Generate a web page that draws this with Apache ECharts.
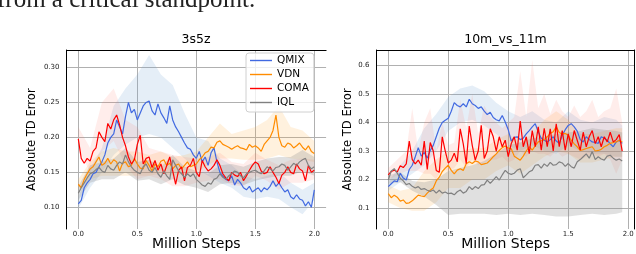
<!DOCTYPE html>
<html><head><meta charset="utf-8">
<script src="https://cdn.jsdelivr.net/npm/echarts@6/dist/echarts.min.js"></script>
<style>html,body{margin:0;padding:0;background:#fff}#c{width:636px;height:254px}</style>
</head><body><div id="c"></div><script>
// ---------- data ----------
const seriesNames = ['QMIX','VDN','COMA','IQL'];
const xTicks = [0, 0.5, 1, 1.5, 2];
const yTicks3s5z = [0.10, 0.15, 0.20, 0.25, 0.30];
const yTicks10m = [0.1, 0.2, 0.3, 0.4, 0.5, 0.6];

const steps3s5z = [0,0.025,0.05,0.075,0.1,0.125,0.15,0.175,0.2,0.225,0.25,0.275,0.3,0.325,0.35,0.375,0.4,0.425,0.45,0.475,0.5,0.525,0.55,0.575,0.6,0.625,0.65,0.675,0.7,0.725,0.75,0.775,0.8,0.825,0.85,0.875,0.9,0.925,0.95,0.975,1,1.025,1.05,1.075,1.1,1.125,1.15,1.175,1.2,1.225,1.25,1.275,1.3,1.325,1.35,1.375,1.4,1.425,1.45,1.475,1.5,1.525,1.55,1.575,1.6,1.625,1.65,1.675,1.7,1.725,1.75,1.775,1.8,1.825,1.85,1.875,1.9,1.925,1.95,1.975,2];
const qmix3s5z = [0.105,0.110,0.128,0.135,0.140,0.148,0.150,0.158,0.165,0.175,
0.192,0.200,0.205,0.225,0.215,0.205,0.230,0.250,0.235,0.240,
0.225,0.235,0.245,0.250,0.252,0.238,0.232,0.248,0.235,0.228,
0.220,0.245,0.225,0.215,0.208,0.200,0.192,0.185,0.183,0.175,
0.170,0.180,0.165,0.172,0.160,0.178,0.185,0.165,0.150,0.145,
0.140,0.138,0.145,0.132,0.140,0.135,0.128,0.125,0.130,0.122,
0.125,0.128,0.122,0.128,0.125,0.130,0.138,0.130,0.135,0.128,
0.122,0.125,0.115,0.112,0.118,0.112,0.110,0.102,0.108,0.100,
0.125];
const vdn3s5z = [0.133,0.128,0.140,0.148,0.155,0.158,0.165,0.172,0.160,0.163,
0.170,0.162,0.168,0.165,0.152,0.163,0.165,0.158,0.160,0.170,
0.162,0.156,0.155,0.167,0.160,0.152,0.162,0.158,0.166,0.168,
0.160,0.163,0.155,0.160,0.162,0.155,0.160,0.165,0.158,0.160,
0.162,0.168,0.172,0.178,0.180,0.186,0.185,0.193,0.195,0.190,
0.188,0.186,0.183,0.186,0.188,0.185,0.184,0.182,0.190,0.186,
0.188,0.185,0.180,0.190,0.195,0.200,0.210,0.232,0.200,0.188,
0.186,0.192,0.190,0.185,0.188,0.192,0.186,0.182,0.188,0.180,
0.177];
const coma3s5z = [0.198,0.170,0.163,0.170,0.166,0.180,0.185,0.208,0.200,0.194,
0.220,0.212,0.225,0.232,0.218,0.200,0.188,0.172,0.162,0.168,
0.190,0.203,0.162,0.170,0.172,0.157,0.167,0.153,0.162,0.148,
0.160,0.172,0.152,0.133,0.153,0.158,0.138,0.157,0.160,0.170,
0.150,0.144,0.167,0.158,0.152,0.155,0.160,0.168,0.160,0.148,
0.142,0.138,0.150,0.146,0.144,0.150,0.138,0.145,0.153,0.160,
0.165,0.162,0.152,0.148,0.150,0.158,0.150,0.143,0.134,0.146,
0.150,0.158,0.150,0.148,0.162,0.155,0.152,0.138,0.160,0.150,
0.153];
const iql3s5z = [0.120,0.128,0.135,0.142,0.148,0.150,0.154,0.157,0.152,0.150,
0.160,0.155,0.153,0.160,0.165,0.162,0.175,0.165,0.158,0.153,
0.150,0.148,0.158,0.162,0.153,0.150,0.157,0.148,0.143,0.152,
0.145,0.140,0.168,0.160,0.152,0.148,0.143,0.148,0.144,0.148,
0.140,0.136,0.132,0.130,0.135,0.133,0.140,0.142,0.148,0.143,
0.140,0.145,0.148,0.152,0.150,0.145,0.142,0.148,0.150,0.152,
0.153,0.150,0.148,0.152,0.158,0.155,0.152,0.157,0.158,0.162,
0.160,0.153,0.158,0.163,0.160,0.165,0.168,0.170,0.160,0.155,
0.158];

const bandSteps3s5z = [0,0.1,0.2,0.3,0.4,0.5,0.6,0.7,0.8,0.9,1,1.1,1.2,1.3,1.4,1.5,1.6,1.7,1.8,1.9,2];
const qmixLo3s5z = [0.098,0.128,0.150,0.175,0.190,0.200,0.205,0.200,0.185,0.170,0.155,0.145,0.135,0.128,0.115,0.112,0.115,0.112,0.100,0.090,0.110];
const qmixHi3s5z = [0.115,0.155,0.185,0.245,0.270,0.290,0.318,0.290,0.275,0.235,0.200,0.195,0.170,0.160,0.145,0.140,0.145,0.150,0.135,0.125,0.135];
const vdnLo3s5z = [0.125,0.140,0.145,0.145,0.145,0.145,0.145,0.148,0.145,0.148,0.150,0.160,0.170,0.170,0.168,0.168,0.170,0.175,0.170,0.168,0.165];
const vdnHi3s5z = [0.140,0.165,0.180,0.185,0.180,0.180,0.175,0.180,0.172,0.175,0.180,0.200,0.220,0.205,0.210,0.215,0.225,0.245,0.215,0.210,0.195];
const comaLo3s5z = [0.185,0.150,0.180,0.195,0.160,0.140,0.145,0.140,0.130,0.130,0.135,0.138,0.140,0.132,0.130,0.145,0.138,0.125,0.135,0.135,0.140];
const comaHi3s5z = [0.215,0.185,0.250,0.270,0.225,0.215,0.185,0.180,0.175,0.172,0.170,0.172,0.178,0.165,0.162,0.178,0.168,0.160,0.168,0.170,0.168];
const iqlLo3s5z = [0.110,0.135,0.140,0.140,0.150,0.138,0.140,0.133,0.140,0.132,0.128,0.122,0.133,0.135,0.132,0.138,0.142,0.145,0.145,0.152,0.145];
const iqlHi3s5z = [0.130,0.160,0.165,0.170,0.185,0.165,0.168,0.158,0.175,0.158,0.152,0.148,0.160,0.162,0.158,0.165,0.170,0.172,0.172,0.182,0.172];

const steps10m = [0,0.025,0.05,0.075,0.1,0.125,0.15,0.175,0.2,0.225,0.25,0.275,0.3,0.325,0.35,0.375,0.4,0.425,0.45,0.475,0.5,0.525,0.55,0.575,0.6,0.625,0.65,0.675,0.7,0.725,0.75,0.775,0.8,0.825,0.85,0.875,0.9,0.925,0.95,0.975,1,1.025,1.05,1.075,1.1,1.125,1.15,1.175,1.2,1.225,1.25,1.275,1.3,1.325,1.35,1.375,1.4,1.425,1.45,1.475,1.5,1.525,1.55,1.575,1.6,1.625,1.65,1.675,1.7,1.725,1.75,1.775,1.8,1.825,1.85,1.875,1.9,1.925,1.95];
const qmix10m = [0.175,0.185,0.195,0.192,0.222,0.205,0.198,0.235,0.250,0.280,
0.312,0.282,0.295,0.275,0.302,0.320,0.350,0.380,0.400,0.408,
0.415,0.440,0.470,0.460,0.455,0.466,0.455,0.482,0.466,0.460,
0.450,0.455,0.440,0.428,0.436,0.418,0.410,0.406,0.425,0.402,
0.375,0.335,0.348,0.350,0.340,0.345,0.360,0.372,0.385,0.396,
0.368,0.345,0.338,0.332,0.340,0.350,0.335,0.327,0.355,0.375,
0.390,0.396,0.385,0.370,0.340,0.332,0.350,0.340,0.332,0.330,
0.327,0.350,0.345,0.338,0.325,0.315,0.332,0.338,0.327];
const vdn10m = [0.150,0.136,0.145,0.138,0.124,0.128,0.116,0.118,0.125,0.135,
0.145,0.142,0.140,0.152,0.162,0.170,0.195,0.208,0.228,0.240,
0.250,0.232,0.220,0.233,0.238,0.232,0.255,0.262,0.256,0.265,
0.262,0.252,0.255,0.258,0.268,0.280,0.290,0.302,0.312,0.318,
0.310,0.308,0.282,0.275,0.268,0.282,0.300,0.315,0.303,0.318,
0.332,0.336,0.340,0.350,0.362,0.368,0.385,0.365,0.360,0.362,
0.355,0.338,0.325,0.315,0.302,0.305,0.309,0.312,0.315,0.300,
0.302,0.306,0.315,0.320,0.327,0.330,0.332,0.338,0.332];
const coma10m = [0.216,0.228,0.233,0.226,0.248,0.242,0.255,0.335,0.270,0.255,
0.268,0.250,0.335,0.235,0.330,0.300,0.232,0.225,0.350,0.300,
0.258,0.268,0.292,0.262,0.378,0.325,0.256,0.388,0.320,0.268,
0.300,0.390,0.274,0.300,0.378,0.350,0.300,0.350,0.315,0.338,
0.280,0.326,0.350,0.303,0.405,0.315,0.350,0.291,0.372,0.315,
0.385,0.303,0.380,0.315,0.378,0.300,0.396,0.315,0.372,0.303,
0.360,0.315,0.372,0.338,0.303,0.366,0.315,0.350,0.372,0.326,
0.350,0.315,0.350,0.332,0.366,0.332,0.340,0.358,0.300];
const iql10m = [0.198,0.230,0.238,0.222,0.205,0.195,0.182,0.186,0.176,0.170,
0.175,0.165,0.168,0.162,0.158,0.163,0.152,0.162,0.152,0.156,
0.150,0.152,0.146,0.157,0.163,0.152,0.158,0.175,0.165,0.175,
0.168,0.180,0.182,0.198,0.186,0.198,0.210,0.198,0.216,0.232,
0.222,0.218,0.222,0.233,0.238,0.206,0.216,0.227,0.232,0.250,
0.252,0.240,0.255,0.246,0.260,0.250,0.252,0.262,0.258,0.246,
0.256,0.245,0.240,0.262,0.270,0.280,0.290,0.275,0.298,0.270,
0.280,0.272,0.268,0.282,0.285,0.275,0.268,0.272,0.265];

const bandSteps10m = [0,0.1,0.2,0.3,0.4,0.5,0.6,0.7,0.8,0.9,1,1.1,1.2,1.3,1.4,1.5,1.6,1.7,1.8,1.9,1.95];
const qmixLo10m = [0.160,0.190,0.220,0.250,0.300,0.370,0.400,0.410,0.390,0.360,0.320,0.300,0.320,0.300,0.290,0.320,0.300,0.290,0.290,0.280,0.280];
const qmixHi10m = [0.190,0.250,0.300,0.380,0.430,0.490,0.520,0.530,0.510,0.470,0.440,0.420,0.440,0.410,0.400,0.440,0.410,0.400,0.420,0.410,0.390];
const vdnLo10m = [0.120,0.100,0.090,0.090,0.120,0.170,0.170,0.200,0.200,0.230,0.250,0.220,0.250,0.280,0.300,0.290,0.260,0.260,0.270,0.280,0.280];
const vdnHi10m = [0.180,0.160,0.170,0.230,0.270,0.300,0.300,0.310,0.310,0.340,0.360,0.330,0.360,0.410,0.440,0.410,0.360,0.360,0.370,0.380,0.380];
const iqlLo10m = [0.185,0.190,0.160,0.140,0.110,0.075,0.080,0.080,0.080,0.075,0.080,0.075,0.080,0.075,0.070,0.070,0.075,0.080,0.075,0.080,0.085];
const iqlHi10m = [0.215,0.225,0.195,0.190,0.200,0.230,0.240,0.250,0.265,0.290,0.320,0.330,0.345,0.350,0.360,0.365,0.370,0.380,0.375,0.370,0.365];
const comaBandSteps10m = [0,0.05,0.1,0.15,0.2,0.25,0.3,0.35,0.4,0.45,0.5,0.55,0.6,0.65,0.7,0.75,0.8,0.85,0.9,0.95,1,1.05,1.1,1.15,1.2,1.25,1.3,1.35,1.4,1.45,1.5,1.55,1.6,1.65,1.7,1.75,1.8,1.85,1.9,1.95];
const comaLo10m = [0.20,0.21,0.22,0.23,0.23,0.23,0.22,0.22,0.20,0.24,0.23,0.24,0.27,0.24,0.27,0.25,0.26,0.27,0.27,0.28,0.26,0.27,0.30,0.28,0.30,0.29,0.29,0.28,0.30,0.28,0.29,0.28,0.27,0.28,0.29,0.28,0.29,0.27,0.22,0.27];
const comaHi10m = [0.24,0.26,0.28,0.30,0.45,0.30,0.40,0.45,0.30,0.40,0.32,0.33,0.48,0.38,0.50,0.36,0.46,0.42,0.40,0.38,0.40,0.42,0.58,0.42,0.62,0.45,0.50,0.43,0.48,0.44,0.42,0.46,0.42,0.44,0.48,0.42,0.44,0.45,0.52,0.40];

// ---------- styles ----------
const lineColors = {QMIX:'#4169e1', VDN:'#ff8c00', COMA:'#ff0000', IQL:'#808080'};
const bandColors = {QMIX:'rgba(110,160,210,0.18)', VDN:'rgba(255,170,60,0.17)', COMA:'rgba(255,110,90,0.12)', IQL:'rgba(140,140,140,0.27)'};
const FONT = 'DejaVu Sans';

function zip(xs, ys){ return xs.map((x,i)=>[x, ys[i]]); }
function lineSeries(name, xs, ys, gi){
  return {type:'line', name:name, xAxisIndex:gi*2, yAxisIndex:gi*2, data:zip(xs,ys),
    symbol:'none', showSymbol:false, z:3, lineStyle:{width:1.2, color:lineColors[name]},
    itemStyle:{color:lineColors[name]}, animation:false, silent:true};
}
function bandSeries(name, xs, lo, hi, gi){
  return {type:'custom', xAxisIndex:gi*2, yAxisIndex:gi*2, silent:true, z:1, animation:false,
    data:[[xs[0], lo[0]]],
    renderItem:function(params, api){
      const pts=[];
      for(let i=0;i<xs.length;i++) pts.push(api.coord([xs[i],hi[i]]));
      for(let i=xs.length-1;i>=0;i--) pts.push(api.coord([xs[i],lo[i]]));
      return {type:'polygon', shape:{points:pts}, style:{fill:bandColors[name], stroke:null}};
    }};
}
function bottomX(gi, min, max){
  return {type:'value', gridIndex:gi, min:min, max:max, position:'bottom',
    axisLine:{show:false, onZero:false}, axisTick:{show:false, customValues:xTicks},
    axisLabel:{customValues:xTicks, formatter:v=>v.toFixed(1), fontSize:7, color:'#222', margin:1.5, fontFamily:FONT},
    splitLine:{show:true, lineStyle:{color:'#b0b0b0', width:1}},
    name:'Million Steps', nameLocation:'middle', nameGap:8, nameMoveOverlap:false,
    nameTextStyle:{fontSize:14, color:'#000', fontFamily:FONT}};
}
function topX(gi){
  return {type:'value', gridIndex:gi, min:0, max:1, position:'top',
    axisLine:{show:true, onZero:false, lineStyle:{color:'#000', width:1}}, axisTick:{show:false},
    axisLabel:{show:false}, splitLine:{show:false}};
}
function leftY(gi, min, max, ticks, dec){
  return {type:'value', gridIndex:gi, min:min, max:max, position:'left',
    axisLine:{show:true, onZero:false, lineStyle:{color:'#000', width:1}}, axisTick:{show:false, customValues:ticks},
    axisLabel:{customValues:ticks, formatter:v=>v.toFixed(dec), fontSize:7, color:'#222', margin:7, fontFamily:FONT},
    splitLine:{show:true, lineStyle:{color:'#b0b0b0', width:1}},
    name:'Absolute TD Error', nameLocation:'middle', nameGap: gi===0 ? 29 : 23, nameMoveOverlap:false,
    nameTextStyle:{fontSize:11.6, color:'#000', fontFamily:FONT}};
}
function rightY(gi, show){
  return {type:'value', gridIndex:gi, min:0, max:1, position:'right',
    axisLine:{show:show, onZero:false, lineStyle:{color:'#000', width:1}}, axisTick:{show:false},
    axisLabel:{show:false}, splitLine:{show:false}};
}

const series = [
  bandSeries('QMIX', bandSteps3s5z, qmixLo3s5z, qmixHi3s5z, 0),
  bandSeries('VDN', bandSteps3s5z, vdnLo3s5z, vdnHi3s5z, 0),
  bandSeries('COMA', bandSteps3s5z, comaLo3s5z, comaHi3s5z, 0),
  bandSeries('IQL', bandSteps3s5z, iqlLo3s5z, iqlHi3s5z, 0),
  lineSeries('QMIX', steps3s5z, qmix3s5z, 0),
  lineSeries('VDN', steps3s5z, vdn3s5z, 0),
  lineSeries('COMA', steps3s5z, coma3s5z, 0),
  lineSeries('IQL', steps3s5z, iql3s5z, 0),
  bandSeries('QMIX', bandSteps10m, qmixLo10m, qmixHi10m, 1),
  bandSeries('VDN', bandSteps10m, vdnLo10m, vdnHi10m, 1),
  bandSeries('COMA', comaBandSteps10m, comaLo10m, comaHi10m, 1),
  bandSeries('IQL', bandSteps10m, iqlLo10m, iqlHi10m, 1),
  lineSeries('QMIX', steps10m, qmix10m, 1),
  lineSeries('VDN', steps10m, vdn10m, 1),
  lineSeries('COMA', steps10m, coma10m, 1),
  lineSeries('IQL', steps10m, iql10m, 1)
];

const chart = echarts.init(document.getElementById('c'), null, {renderer:'canvas'});
chart.setOption({
  animation:false,
  backgroundColor:'#fff',
  title:[
    {text:'3s5z', left:196, top:33, textAlign:'center', padding:0, textStyle:{fontSize:12.5, fontWeight:'normal', color:'#000', fontFamily:FONT}},
    {text:'10m_vs_11m', left:505.5, top:33, textAlign:'center', padding:0, textStyle:{fontSize:12.5, fontWeight:'normal', color:'#000', fontFamily:FONT}}
  ],
  graphic:[{type:'text', left:-3, top:-12, silent:true,
    style:{text:'from a critical standpoint.', font:'25px "Liberation Serif"', fill:'#222'}}],
  legend:{data:seriesNames, orient:'vertical', left:246, top:53, icon:'rect', itemWidth:22, itemHeight:1.4, itemGap:1,
    padding:[1,5,3,4], backgroundColor:'rgba(255,255,255,0.8)', borderColor:'#d0d0d0', borderWidth:1, borderRadius:3,
    textStyle:{fontSize:10.5, color:'#000', fontFamily:FONT, lineHeight:13}, selectedMode:false, z:10},
  grid:[
    {left:66.5, top:50, width:259.6, height:179, outerBoundsMode:'none', containLabel:false},
    {left:376.5, top:50, width:258.2, height:179, outerBoundsMode:'none', containLabel:false}
  ],
  xAxis:[bottomX(0,-0.1,2.1), topX(0), bottomX(1,-0.098,2.054), topX(1)],
  yAxis:[leftY(0,0.069,0.325,yTicks3s5z,2), rightY(0,false), leftY(1,0.026,0.655,yTicks10m,1), rightY(1,true)],
  series:series
});
</script></body></html>
